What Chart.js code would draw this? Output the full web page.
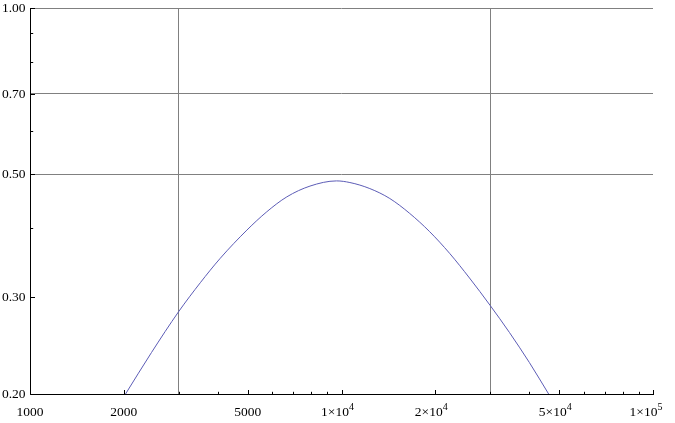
<!DOCTYPE html>
<html>
<head>
<meta charset="utf-8">
<script src="https://cdn.jsdelivr.net/npm/chart.js@4/dist/chart.umd.min.js"></script>
<style>
  html, body { margin: 0; padding: 0; background: #fff; }
  #wrap { width: 675px; height: 423px; position: relative; }
</style>
</head>
<body>
<div id="wrap"><canvas id="c" width="675" height="423"></canvas></div>
<script>
// Curve values (x on log scale, y on log scale)
const xValues = [2026, 2454, 3000, 3522, 4081, 4969, 5757, 6675, 7922, 9645, 10640, 12330, 14290, 16560, 19190, 22230, 25760, 30000, 34600, 40090, 46240];
const yValues = [0.2000, 0.2377, 0.2819, 0.3181, 0.3522, 0.3961, 0.4276, 0.4550, 0.4759, 0.4863, 0.4830, 0.4710, 0.4519, 0.4246, 0.3935, 0.3596, 0.3244, 0.2894, 0.2585, 0.2281, 0.2000];

// Axis ranges, ticks and grid lines
const xRange = [1000, 100000];
const yRange = [0.2, 1.0];
const xMajorTicks = [1000, 2000, 5000, 10000, 20000, 50000, 100000];
const xTickLabels = [["1000", ""], ["2000", ""], ["5000", ""], ["1\u00d710", "4"], ["2\u00d710", "4"], ["5\u00d710", "4"], ["1\u00d710", "5"]];
const xMinorTicks = [3000, 4000, 6000, 7000, 8000, 9000, 30000, 40000, 60000, 70000, 80000, 90000];
const yMajorTicks = [0.2, 0.3, 0.5, 0.7, 1.0];
const yTickLabels = ["0.20", "0.30", "0.50", "0.70", "1.00"];
const yMinorTicks = [0.4, 0.6, 0.8, 0.9];
const xGrid = [3000, 30000];
const yGrid = [0.5, 0.7, 1.0];

const points = xValues.map((x, i) => ({ x: x, y: yValues[i] }));

const FONT = '"Liberation Serif", "Times New Roman", serif';

const axesPlugin = {
  id: 'mmaAxes',
  afterDraw(chart) {
    const ctx = chart.ctx;
    const xs = chart.scales.x, ys = chart.scales.y;
    const ca = chart.chartArea;
    const ax = Math.round(ca.left) + 0.5;
    const ay = Math.round(ca.bottom) + 0.5;
    ctx.save();
    ctx.strokeStyle = '#000';
    ctx.lineWidth = 1;
    ctx.beginPath();
    ctx.moveTo(ax, Math.round(ca.top));
    ctx.lineTo(ax, ay);
    ctx.lineTo(Math.round(ca.right) + 1, ay);
    ctx.stroke();

    // y ticks (inward)
    ctx.beginPath();
    yMajorTicks.forEach(v => {
      const p = Math.round(ys.getPixelForValue(v)) + 0.5;
      ctx.moveTo(ax, p); ctx.lineTo(ax + 4.5, p);
    });
    yMinorTicks.forEach(v => {
      const p = Math.round(ys.getPixelForValue(v)) + 0.5;
      ctx.moveTo(ax, p); ctx.lineTo(ax + 2.7, p);
    });
    // x ticks (inward)
    xMajorTicks.forEach(v => {
      const p = Math.round(xs.getPixelForValue(v)) + 0.5;
      ctx.moveTo(p, ay); ctx.lineTo(p, ay - 4.5);
    });
    xMinorTicks.forEach(v => {
      const p = Math.round(xs.getPixelForValue(v)) + 0.5;
      ctx.moveTo(p, ay); ctx.lineTo(p, ay - 2.7);
    });
    ctx.stroke();

    // y labels
    ctx.fillStyle = '#000';
    ctx.font = '13.5px ' + FONT;
    ctx.textAlign = 'right';
    ctx.textBaseline = 'middle';
    yMajorTicks.forEach((v, i) => {
      ctx.fillText(yTickLabels[i], 25.5, ys.getPixelForValue(v) + 0.5);
    });

    // x labels with superscript exponents
    ctx.textAlign = 'left';
    ctx.textBaseline = 'alphabetic';
    xMajorTicks.forEach((v, i) => {
      const [base, exp] = xTickLabels[i];
      ctx.font = '13.5px ' + FONT;
      const wb = ctx.measureText(base).width;
      ctx.font = '10px ' + FONT;
      const we = exp ? ctx.measureText(exp).width : 0;
      const total = wb + we;
      let x0 = xs.getPixelForValue(v) - total / 2 - (exp ? (v === 100000 ? 7 : 4) : 0);
      ctx.font = '13.5px ' + FONT;
      ctx.fillText(base, x0, 416);
      if (exp) {
        ctx.font = '10px ' + FONT;
        ctx.fillText(exp, x0 + wb, 410);
      }
    });
    ctx.restore();
  }
};

new Chart(document.getElementById('c'), {
  type: 'scatter',
  data: {
    datasets: [{
      data: points,
      showLine: true,
      borderColor: 'rgb(92, 92, 182)',
      borderWidth: 1,
      pointRadius: 0,
      cubicInterpolationMode: 'monotone',
      fill: false
    }]
  },
  options: {
    responsive: false,
    animation: false,
    devicePixelRatio: 1,
    layout: { padding: { left: 30, right: 22, top: 8, bottom: 29 } },
    plugins: { legend: { display: false }, tooltip: { enabled: false } },
    scales: {
      x: {
        type: 'logarithmic',
        min: xRange[0], max: xRange[1],
        afterBuildTicks: s => { s.ticks = xGrid.map(v => ({ value: v })); },
        ticks: { display: false },
        grid: { color: '#808080', lineWidth: 1, drawTicks: false },
        border: { display: false }
      },
      y: {
        type: 'logarithmic',
        min: yRange[0], max: yRange[1],
        afterBuildTicks: s => { s.ticks = yGrid.map(v => ({ value: v })); },
        ticks: { display: false },
        grid: { color: '#808080', lineWidth: 1, drawTicks: false },
        border: { display: false }
      }
    }
  },
  plugins: [axesPlugin]
});
</script>
</body>
</html>
